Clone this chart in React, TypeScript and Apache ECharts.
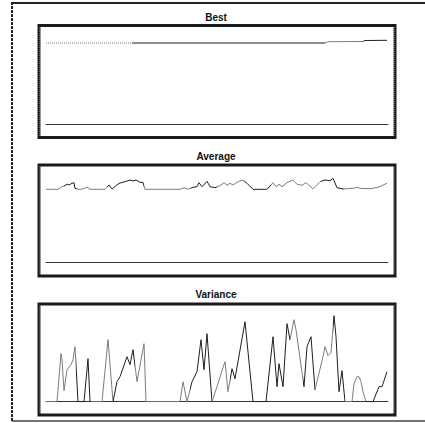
import React, { useEffect, useRef } from "react";
import * as echarts from "echarts";

// generation index (x) and value pairs
const bestGen = [0, 86, 279, 282, 317, 319, 341];
const bestVal = [81, 81, 81, 82.3, 82.5, 83.5, 83.7];

const avgGen = [0, 12, 16, 19, 21, 23, 26, 28, 29, 32, 37, 41, 44, 59, 63, 66, 70, 73, 79, 84, 87, 90, 94, 97, 99,
  134, 138, 142, 147, 151, 153, 156, 161, 164, 169, 174, 178, 181, 184, 187, 192, 197, 201, 207,
  221, 227, 230, 233, 236, 241, 247, 251, 256, 260, 267, 274, 279, 284, 287, 291, 297, 307, 311, 314, 324, 332, 341];
const avgVal = [73, 73, 75.6, 76.6, 78.3, 77.3, 79, 79.6, 74, 73, 73.3, 75.2, 73, 73, 77.3, 73.3, 76.6, 79, 80.6, 82.3, 81.3, 82.3, 80, 80, 73,
  73, 74.6, 73, 75, 75.6, 79.6, 75.6, 81, 75.6, 74.6, 76.6, 79.6, 77, 79, 77.3, 80.6, 82.3, 79, 73,
  73, 79.6, 75.6, 78, 75.6, 79.6, 82.3, 78, 77, 79.6, 73.5, 80.6, 82.3, 81.6, 84, 74.6, 73.3, 74, 75, 74, 73.6, 75, 79];

const varGen = [0, 11, 15, 16, 18, 21, 25, 27, 29, 32, 38, 42, 44, 56, 62, 67, 71, 74, 81, 84, 87, 91, 98, 100,
  134, 137, 141, 146, 151, 155, 158, 161, 166, 171, 175, 179, 182, 186, 189, 199, 207,
  220, 227, 231, 233, 237, 241, 244, 248, 250, 258, 261, 265, 269, 277, 279, 282, 285, 288, 290, 293, 296, 299,
  306, 308, 311, 313, 315, 317, 320, 327, 333, 336, 341];
const varVal = [0, 0, 48, 42, 11, 32, 37, 42, 55, 0, 0, 43, 0, 0, 62, 0, 20, 25, 45, 37, 52, 20, 58, 0,
  0, 20, 0, 20, 30, 62, 32, 68, 0, 15, 28, 40, 10, 33, 23, 80, 0,
  0, 65, 15, 38, 15, 78, 62, 82, 72, 15, 55, 65, 12, 45, 55, 46, 49, 86, 65, 10, 31, 0,
  0, 18, 25, 25, 20, 10, 0, 0, 15, 15, 30];

const titles = ["Best", "Average", "Variance"];
const GRAY = "#7c7c7c";
const DARK = "#1e1e1e";

const zip = (a: number[], b: number[]) => a.map((x, i) => [x, b[i]]);

export default function App() {
  const ref = useRef<HTMLDivElement>(null);
  useEffect(() => {
    if (!ref.current) return;
    const chart = echarts.init(ref.current, null, { renderer: "svg" });
    const tops = [34, 172.3, 311.7];
    const boxes = [
      [24, 139],
      [163.5, 277.5],
      [302.5, 416.5],
    ];
    const titleY = [17, 156, 294];
    const grids = tops.map((t) => ({ left: 46, width: 342, top: t, height: 90 }));
    const xAxes = tops.map((_, i) => ({
      type: "value", gridIndex: i, min: 0, max: 342,
      axisLine: { show: true, onZero: false, lineStyle: { color: "#333", width: 1 } },
      axisTick: { show: false }, axisLabel: { show: false }, splitLine: { show: false },
    }));
    const yAxes = tops.map((_, i) => ({
      type: "value", gridIndex: i, min: 0, max: 90, show: false,
    }));
    const best = zip(bestGen, bestVal);
    const bestA = best.filter((p) => p[0] <= 86);
    const bestB = best.filter((p) => p[0] >= 86);
    const lineBase = { type: "line", symbol: "none", showSymbol: false, z: 3 };
    const series: any[] = [
      { ...lineBase, xAxisIndex: 0, yAxisIndex: 0, data: bestA, lineStyle: { color: GRAY, width: 1, type: [1, 1] } },
      { ...lineBase, xAxisIndex: 0, yAxisIndex: 0, data: bestB, lineStyle: { width: 1 } },
      { ...lineBase, xAxisIndex: 1, yAxisIndex: 1, data: zip(avgGen, avgVal), lineStyle: { width: 1 } },
      { ...lineBase, xAxisIndex: 2, yAxisIndex: 2, data: zip(varGen, varVal), lineStyle: { width: 1 } },
    ];
    const vm = (idx: number, cuts: number[], startGray: boolean) => {
      const pieces: any[] = [];
      for (let i = 0; i < cuts.length - 1; i++) {
        const gray = (i % 2 === 0) === startGray;
        pieces.push({ gte: cuts[i], lt: cuts[i + 1], color: gray ? GRAY : DARK });
      }
      return { type: "piecewise", show: false, dimension: 0, seriesIndex: idx, pieces, outOfRange: { color: DARK } };
    };
    const graphics: any[] = [
      { type: "line", shape: { x1: 12, y1: 3, x2: 425, y2: 3 }, style: { stroke: "#222", lineWidth: 2 } },
      { type: "line", shape: { x1: 12, y1: 421, x2: 425, y2: 421 }, style: { stroke: "#444", lineWidth: 1.5 } },
      { type: "line", shape: { x1: 12, y1: 2, x2: 12, y2: 422 }, style: { stroke: "#222", lineWidth: 2, lineDash: [3, 1] } },
    ];
    boxes.forEach((b, i) => {
      graphics.push({
        type: "rect", z: 1,
        shape: { x: 39, y: b[0] + 1.5, width: 356, height: b[1] - b[0] - 3 },
        style: { fill: "none", stroke: "#1a1a1a", lineWidth: 3 },
      });
      graphics.push({ type: "line", z: 2, shape: { x1: 40, y1: b[0] + 3, x2: 40, y2: b[1] - 3 }, style: { stroke: "#bbb", lineWidth: 1, lineDash: [1, 1] } });
      graphics.push({ type: "line", z: 2, shape: { x1: 394, y1: b[0] + 3, x2: 394, y2: b[1] - 3 }, style: { stroke: "#bbb", lineWidth: 1, lineDash: [1, 1] } });
      graphics.push({
        type: "text", z: 2, x: 216, y: titleY[i],
        style: { text: titles[i], fill: "#111", font: "bold 10px 'Liberation Sans', Arial, sans-serif", textAlign: "center", textVerticalAlign: "middle" },
      });
    });
    chart.setOption({
      animation: false,
      backgroundColor: "#fff",
      grid: grids,
      xAxis: xAxes,
      yAxis: yAxes,
      visualMap: [
        vm(1, [86, 279, 317, 400], false),
        vm(2, [0, 18, 31, 61, 98, 145, 171, 198, 225, 275, 298, 400], true),
        vm(3, [0, 30, 45, 67, 89, 144, 166, 184, 244, 257, 269, 287, 299, 320, 400], true),
      ],
      graphic: graphics,
      series,
    });
    return () => chart.dispose();
  }, []);
  return (
    <div
      ref={ref}
      style={{ position: "fixed", left: 0, top: 0, width: 425, height: 423, background: "#fff" }}
    />
  );
}
